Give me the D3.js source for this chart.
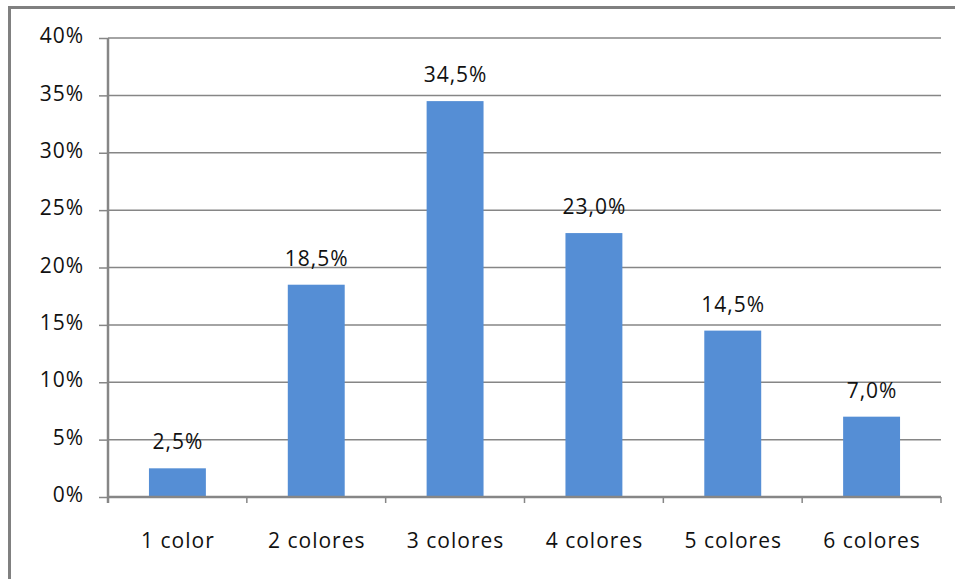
<!DOCTYPE html>
<html>
<head>
<meta charset="utf-8">
<script src="https://cdn.jsdelivr.net/npm/d3@7"></script>
<style>
  html, body { margin: 0; padding: 0; background: #ffffff; }
  svg text { font-family: "Open Sans", "Liberation Sans", sans-serif; fill: #111111; letter-spacing: 1px; }
</style>
</head>
<body>
<svg id="chart" width="955" height="579"></svg>
<script>
// Share of items by number of colours used
const categories = ["1 color", "2 colores", "3 colores", "4 colores", "5 colores", "6 colores"];
const shares = [2.5, 18.5, 34.5, 23.0, 14.5, 7.0];
const yTicks = [0, 5, 10, 15, 20, 25, 30, 35, 40];

const svg = d3.select("#chart");
const plot = { left: 108, right: 941, top: 38, bottom: 497 };
const gridColor = "#868686";
const fontSize = 21;

// outer chart frame (runs off the right and bottom edges)
svg.append("rect")
  .attr("x", 9.5).attr("y", 7.5)
  .attr("width", 980).attr("height", 620)
  .attr("fill", "none")
  .attr("stroke", "#808080")
  .attr("stroke-width", 3);

const x = d3.scaleBand()
  .domain(categories)
  .range([plot.left, plot.right])
  .paddingInner(0.59)
  .paddingOuter(0.295);

const xOuter = d3.scaleBand()
  .domain(categories)
  .range([plot.left, plot.right]);

const y = d3.scaleLinear()
  .domain([0, 40])
  .range([plot.bottom, plot.top]);

const fmt = v => v.toFixed(1).replace(".", ",") + "%";

// horizontal gridlines
svg.append("g")
  .selectAll("line")
  .data(yTicks.filter(t => t > 0))
  .join("line")
  .attr("x1", plot.left).attr("x2", plot.right)
  .attr("y1", d => y(d)).attr("y2", d => y(d))
  .attr("stroke", gridColor)
  .attr("stroke-width", 1.5);

// y axis
const yAxis = svg.append("g")
  .attr("transform", `translate(${plot.left},0)`)
  .call(d3.axisLeft(y).tickValues(yTicks).tickSize(9).tickPadding(15)
    .tickFormat(d => d + "%"));
yAxis.select(".domain").attr("stroke", gridColor).attr("stroke-width", 2.5)
  .attr("d", `M0,${plot.top}V${plot.bottom + 6}`);
yAxis.selectAll(".tick line").attr("stroke", gridColor).attr("stroke-width", 1.5);
yAxis.selectAll("text").attr("font-size", fontSize).attr("dy", "0.22em")
  .style("font-family", null).attr("fill", "#111");

// bars
svg.append("g")
  .selectAll("rect")
  .data(categories)
  .join("rect")
  .attr("x", d => x(d))
  .attr("width", x.bandwidth())
  .attr("y", (d, i) => y(shares[i]))
  .attr("height", (d, i) => y(0) - y(shares[i]))
  .attr("fill", "#558ed5");

// value labels
svg.append("g")
  .selectAll("text")
  .data(categories)
  .join("text")
  .attr("x", d => x(d) + x.bandwidth() / 2 + 0.5)
  .attr("y", (d, i) => y(shares[i]) - 19)
  .attr("text-anchor", "middle")
  .attr("font-size", fontSize)
  .text((d, i) => fmt(shares[i]));

// x axis with category boundary ticks
const xAxis = svg.append("g")
  .attr("transform", `translate(0,${plot.bottom})`);
xAxis.append("line")
  .attr("x1", plot.left).attr("x2", plot.right)
  .attr("stroke", gridColor).attr("stroke-width", 2.5);
xAxis.selectAll("line.bound")
  .data(categories.map(c => xOuter(c)).concat([plot.right]))
  .join("line")
  .attr("class", "bound")
  .attr("x1", d => d).attr("x2", d => d)
  .attr("y1", 0).attr("y2", 6)
  .attr("stroke", gridColor).attr("stroke-width", 1.5);
xAxis.selectAll("text")
  .data(categories)
  .join("text")
  .attr("x", d => xOuter(d) + xOuter.bandwidth() / 2 + 0.5)
  .attr("y", 51)
  .attr("text-anchor", "middle")
  .attr("font-size", fontSize)
  .text(d => d);
</script>
</body>
</html>
